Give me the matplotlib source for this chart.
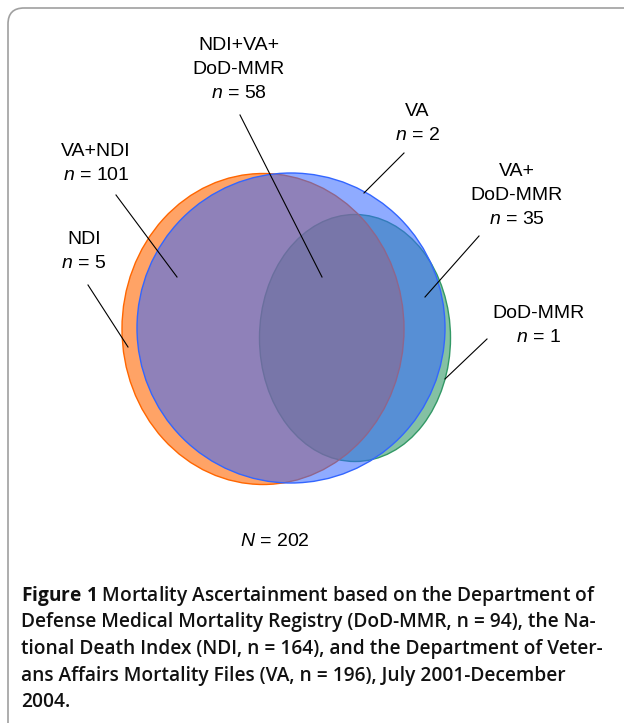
import matplotlib

matplotlib.use("Agg")
import matplotlib.pyplot as plt
from matplotlib.patches import Ellipse, FancyBboxPatch

plt.rcParams["font.family"] = ["Liberation Sans", "DejaVu Sans"]
plt.rcParams["mathtext.fontset"] = "custom"
plt.rcParams["mathtext.rm"] = "Liberation Sans"
plt.rcParams["mathtext.it"] = "Liberation Sans:italic"
plt.rcParams["mathtext.bf"] = "Open Sans:bold"

# --------------------------------------------------------------------------- #
#  数据
# --------------------------------------------------------------------------- #

regions = ["NDI+VA+\nDoD-MMR", "VA", "VA+NDI", "VA+\nDoD-MMR", "NDI", "DoD-MMR"]
counts = [58, 2, 101, 35, 5, 1]
total = 202

sets = ["DoD-MMR", "NDI", "VA"]
set_sizes = [94, 164, 196]

caption_lines = [
    r"$\bf{Figure\ 1}$ Mortality Ascertainment based on the Department of",
    "Defense Medical Mortality Registry (DoD-MMR, n = 94), the Na-",
    "tional Death Index (NDI, n = 164), and the Department of Veter-",
    "ans Affairs Mortality Files (VA, n = 196), July 2001-December",
    "2004.",
]

# --------------------------------------------------------------------------- #
#  版式 (像素坐标)
# --------------------------------------------------------------------------- #

# 椭圆: 中心 x, 中心 y, 宽, 高, 颜色, 透明度  (绘制顺序: 绿 -> 橙 -> 蓝)
ellipses = {
    "DoD-MMR": (355, 338, 191, 247, "#339966", 0.6),
    "NDI": (263, 329, 282, 311, "#FF6600", 0.6),
    "VA": (291, 328, 308, 310, "#3366FF", 0.55),
}

label_pos = [(239, 45), (417, 111), (96, 152), (517, 172), (84, 240), (538, 313)]
leaders = [
    ((240, 115), (322, 277)),
    ((404, 153), (364, 193)),
    ((116, 195), (177, 277)),
    ((479, 236), (425, 297)),
    ((88, 285), (128, 347)),
    ((487, 339), (445, 379)),
]

fig = plt.figure(figsize=(6.24, 7.23), dpi=100)
ax = fig.add_axes([0, 0, 1, 1])
ax.set_xlim(0, 624)
ax.set_ylim(723, 0)
ax.axis("off")

# 外框
box = FancyBboxPatch(
    (8, 8), 660, 760,
    boxstyle="round,pad=0,rounding_size=16",
    facecolor="white", edgecolor="#A0A0A0", linewidth=1.2, zorder=0,
)
ax.add_patch(box)

for name in ["DoD-MMR", "NDI", "VA"]:
    cx, cy, w, h, color, alpha = ellipses[name]
    ax.add_patch(Ellipse((cx, cy), w, h, facecolor=color, alpha=alpha,
                         edgecolor="none", zorder=1))
    ax.add_patch(Ellipse((cx, cy), w, h, facecolor="none", edgecolor=color,
                         linewidth=1.0, zorder=1))

for (p0, p1) in leaders:
    ax.plot([p0[0], p1[0]], [p0[1], p1[1]], color="black", linewidth=0.8, zorder=3)

for text, n, (x, y) in zip(regions, counts, label_pos):
    lines = text.split("\n") + [f"$n$ = {n}"]
    for k, line in enumerate(lines):
        ax.text(x, y + 24 * k, line, ha="center", va="center", fontsize=14, zorder=4)

ax.text(275, 542, f"$N$ = {total}", ha="center", va="center", fontsize=14)

for k, line in enumerate(caption_lines):
    ax.text(21, 596 + 26.5 * k, line, ha="left", va="center", fontsize=13.8,
            family=["Open Sans", "DejaVu Sans"], weight="semibold", color="#111111")

fig.savefig("out.png", dpi=100)
